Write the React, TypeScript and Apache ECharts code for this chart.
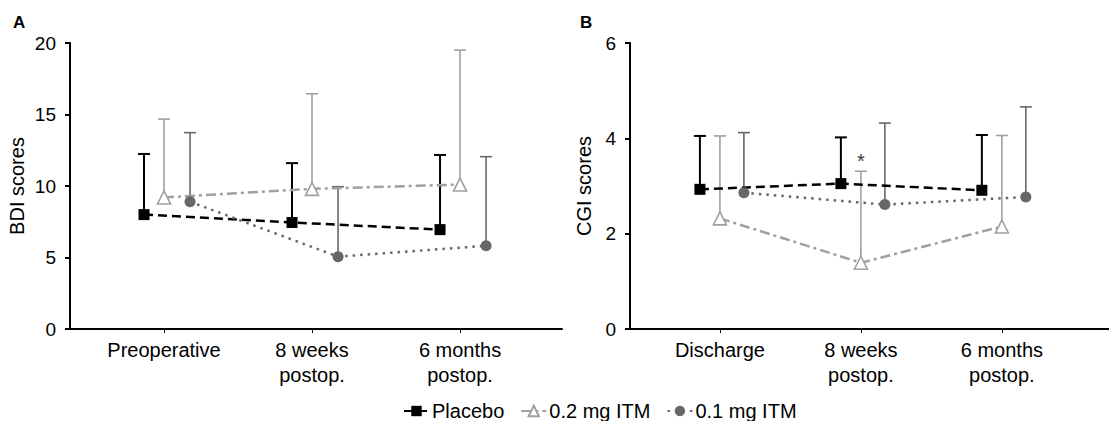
import React, { useEffect, useRef } from "react";
import * as echarts from "echarts";

// ---------- data ----------
const bdiCategories = ["Preoperative", "8 weeks\npostop.", "6 months\npostop."];
const cgiCategories = ["Discharge", "8 weeks\npostop.", "6 months\npostop."];

const seriesNames = ["Placebo", "0.2 mg ITM", "0.1 mg ITM"];

// BDI (panel A): mean and upper error-bar end
const bdiPlaceboMean = [8.0, 7.45, 6.95];
const bdiPlaceboUpper = [12.24, 11.6, 12.17];
const bdi02Mean = [9.2, 9.8, 10.1];
const bdi02Upper = [14.68, 16.45, 19.5];
const bdi01Mean = [8.9, 5.06, 5.82];
const bdi01Upper = [13.73, 9.95, 12.05];

// CGI (panel B)
const cgiPlaceboMean = [2.93, 3.05, 2.91];
const cgiPlaceboUpper = [4.05, 4.02, 4.07];
const cgi02Mean = [2.32, 1.39, 2.15];
const cgi02Upper = [4.05, 3.31, 4.06];
const cgi01Mean = [2.86, 2.61, 2.77];
const cgi01Upper = [4.12, 4.32, 4.66];

const bdiTicks = { min: 0, max: 20, interval: 5 };
const cgiTicks = { min: 0, max: 6, interval: 2 };

// significance mark (panel B, 0.2 mg at 8 weeks)
const starCategory = 1;
const starValue = cgi02Upper[1];

// ---------- styles ----------
const FONT = "'Liberation Sans', Arial, Helvetica, sans-serif";
const colors = ["#000000", "#a0a0a0", "#676767"];
const offsetsA = [-0.135, 0, 0.176];
const offsetsB = [-0.142, 0, 0.17];
const lineTypes: any[] = [[9, 5], [10, 4, 3, 4], [2.5, 5]];
const symbols = ["rect", "triangle", "circle"];
const symbolSizes = [11, 13, 11];
const barWidths = [2, 1.6, 1.6];

function pts(means: number[], offset: number) {
  return means.map((v, i) => [i + offset, v]);
}
function bars(means: number[], uppers: number[], offset: number) {
  return means.map((v, i) => [i + offset, v, uppers[i]]);
}

function errorSeries(name: string, data: number[][], k: number, axis: number) {
  return {
    type: "custom",
    name,
    xAxisIndex: axis,
    yAxisIndex: axis,
    z: 1,
    silent: true,
    encode: { x: 0, y: [1, 2] },
    data,
    renderItem: (params: any, api: any) => {
      const x = api.value(0);
      const lo = api.coord([x, api.value(1)]);
      const hi = api.coord([x, api.value(2)]);
      const hw = 6;
      const style = { stroke: colors[k], lineWidth: barWidths[k] };
      return {
        type: "group",
        children: [
          { type: "line", shape: { x1: lo[0], y1: lo[1], x2: hi[0], y2: hi[1] }, style },
          { type: "line", shape: { x1: hi[0] - hw, y1: hi[1], x2: hi[0] + hw, y2: hi[1] }, style },
        ],
      };
    },
  };
}

function lineSeries(k: number, data: number[][], axis: number) {
  const hollow = k === 1;
  return {
    type: "line",
    name: seriesNames[k],
    xAxisIndex: axis,
    yAxisIndex: axis,
    z: 3,
    data,
    symbol: symbols[k],
    symbolSize: symbolSizes[k],
    showSymbol: true,
    lineStyle: { color: colors[k], width: 2.5, type: lineTypes[k] },
    itemStyle: hollow
      ? { color: "#ffffff", borderColor: colors[k], borderWidth: 1.6 }
      : { color: colors[k], borderWidth: 0 },
  };
}

function xAxis(axis: number, cats: string[], min: number, max: number) {
  return {
    type: "value",
    gridIndex: axis,
    min,
    max,
    splitLine: { show: false },
    axisLine: { show: true, onZero: false, lineStyle: { color: "#000", width: 2 } },
    axisTick: { show: true, customValues: [0, 1, 2], length: 4, lineStyle: { color: "#000", width: 1 } },
    axisLabel: {
      customValues: [0, 1, 2],
      formatter: (v: number) => cats[Math.round(v)] ?? "",
      color: "#000",
      fontFamily: FONT,
      fontSize: 20,
      lineHeight: 25,
      margin: 8,
    },
  };
}

function yAxis(axis: number, ticks: any, name: string, nameGap: number) {
  return {
    type: "value",
    gridIndex: axis,
    min: ticks.min,
    max: ticks.max,
    interval: ticks.interval,
    name,
    nameLocation: "middle",
    nameGap,
    nameTextStyle: { color: "#000", fontFamily: FONT, fontSize: 20 },
    splitLine: { show: false },
    axisLine: { show: true, onZero: false, lineStyle: { color: "#000", width: 2 } },
    axisTick: { show: true, length: 5, lineStyle: { color: "#000", width: 2 } },
    axisLabel: { color: "#000", fontFamily: FONT, fontSize: 19, margin: 14 },
  };
}

export default function App() {
  const ref = useRef<HTMLDivElement>(null);
  useEffect(() => {
    document.body.style.margin = "0";
    if (!ref.current) return;
    const chart = echarts.init(ref.current, undefined, { renderer: "svg" });
    const A = [
      [bdiPlaceboMean, bdiPlaceboUpper],
      [bdi02Mean, bdi02Upper],
      [bdi01Mean, bdi01Upper],
    ];
    const B = [
      [cgiPlaceboMean, cgiPlaceboUpper],
      [cgi02Mean, cgi02Upper],
      [cgi01Mean, cgi01Upper],
    ];
    const series: any[] = [];
    A.forEach(([m, u], k) => series.push(errorSeries("errA" + k, bars(m, u, offsetsA[k]), k, 0)));
    B.forEach(([m, u], k) => series.push(errorSeries("errB" + k, bars(m, u, offsetsB[k]), k, 1)));
    A.forEach(([m], k) => series.push(lineSeries(k, pts(m, offsetsA[k]), 0)));
    B.forEach(([m], k) => series.push(lineSeries(k, pts(m, offsetsB[k]), 1)));
    series.push({
      type: "scatter",
      name: "sig",
      xAxisIndex: 1,
      yAxisIndex: 1,
      symbolSize: 1,
      itemStyle: { color: "rgba(0,0,0,0)" },
      silent: true,
      data: [[starCategory + offsetsB[1], starValue]],
      label: {
        show: true,
        formatter: "*",
        position: "top",
        distance: 0,
        color: "#000000",
        fontFamily: FONT,
        fontSize: 20,
      },
    });

    chart.setOption({
      animation: false,
      backgroundColor: "#ffffff",
      textStyle: { fontFamily: FONT },
      grid: [
        { left: 70, right: 547, top: 43, bottom: 92, outerBoundsMode: "none" },
        { left: 630, right: 0, top: 43, bottom: 92, outerBoundsMode: "none" },
      ],
      xAxis: [xAxis(0, bdiCategories, -0.635, 2.689), xAxis(1, cgiCategories, -0.638, 2.76)],
      yAxis: [yAxis(0, bdiTicks, "BDI scores", 43), yAxis(1, cgiTicks, "CGI scores", 36)],
      legend: {
        data: seriesNames,
        left: 403,
        top: 401,
        padding: 0,
        itemWidth: 25,
        itemHeight: 13,
        itemGap: 16,
        textStyle: { color: "#000", fontFamily: FONT, fontSize: 20, padding: [0, 0, 0, -2] },
      },
      graphic: [
        { type: "text", left: 13, top: 14, style: { text: "A", fontFamily: FONT, fontWeight: "bold", fontSize: 17, fill: "#000" } },
        { type: "text", left: 580, top: 14, style: { text: "B", fontFamily: FONT, fontWeight: "bold", fontSize: 17, fill: "#000" } },
      ],
      series,
    });
    return () => chart.dispose();
  }, []);
  return <div ref={ref} style={{ width: 1109, height: 421 }} />;
}
